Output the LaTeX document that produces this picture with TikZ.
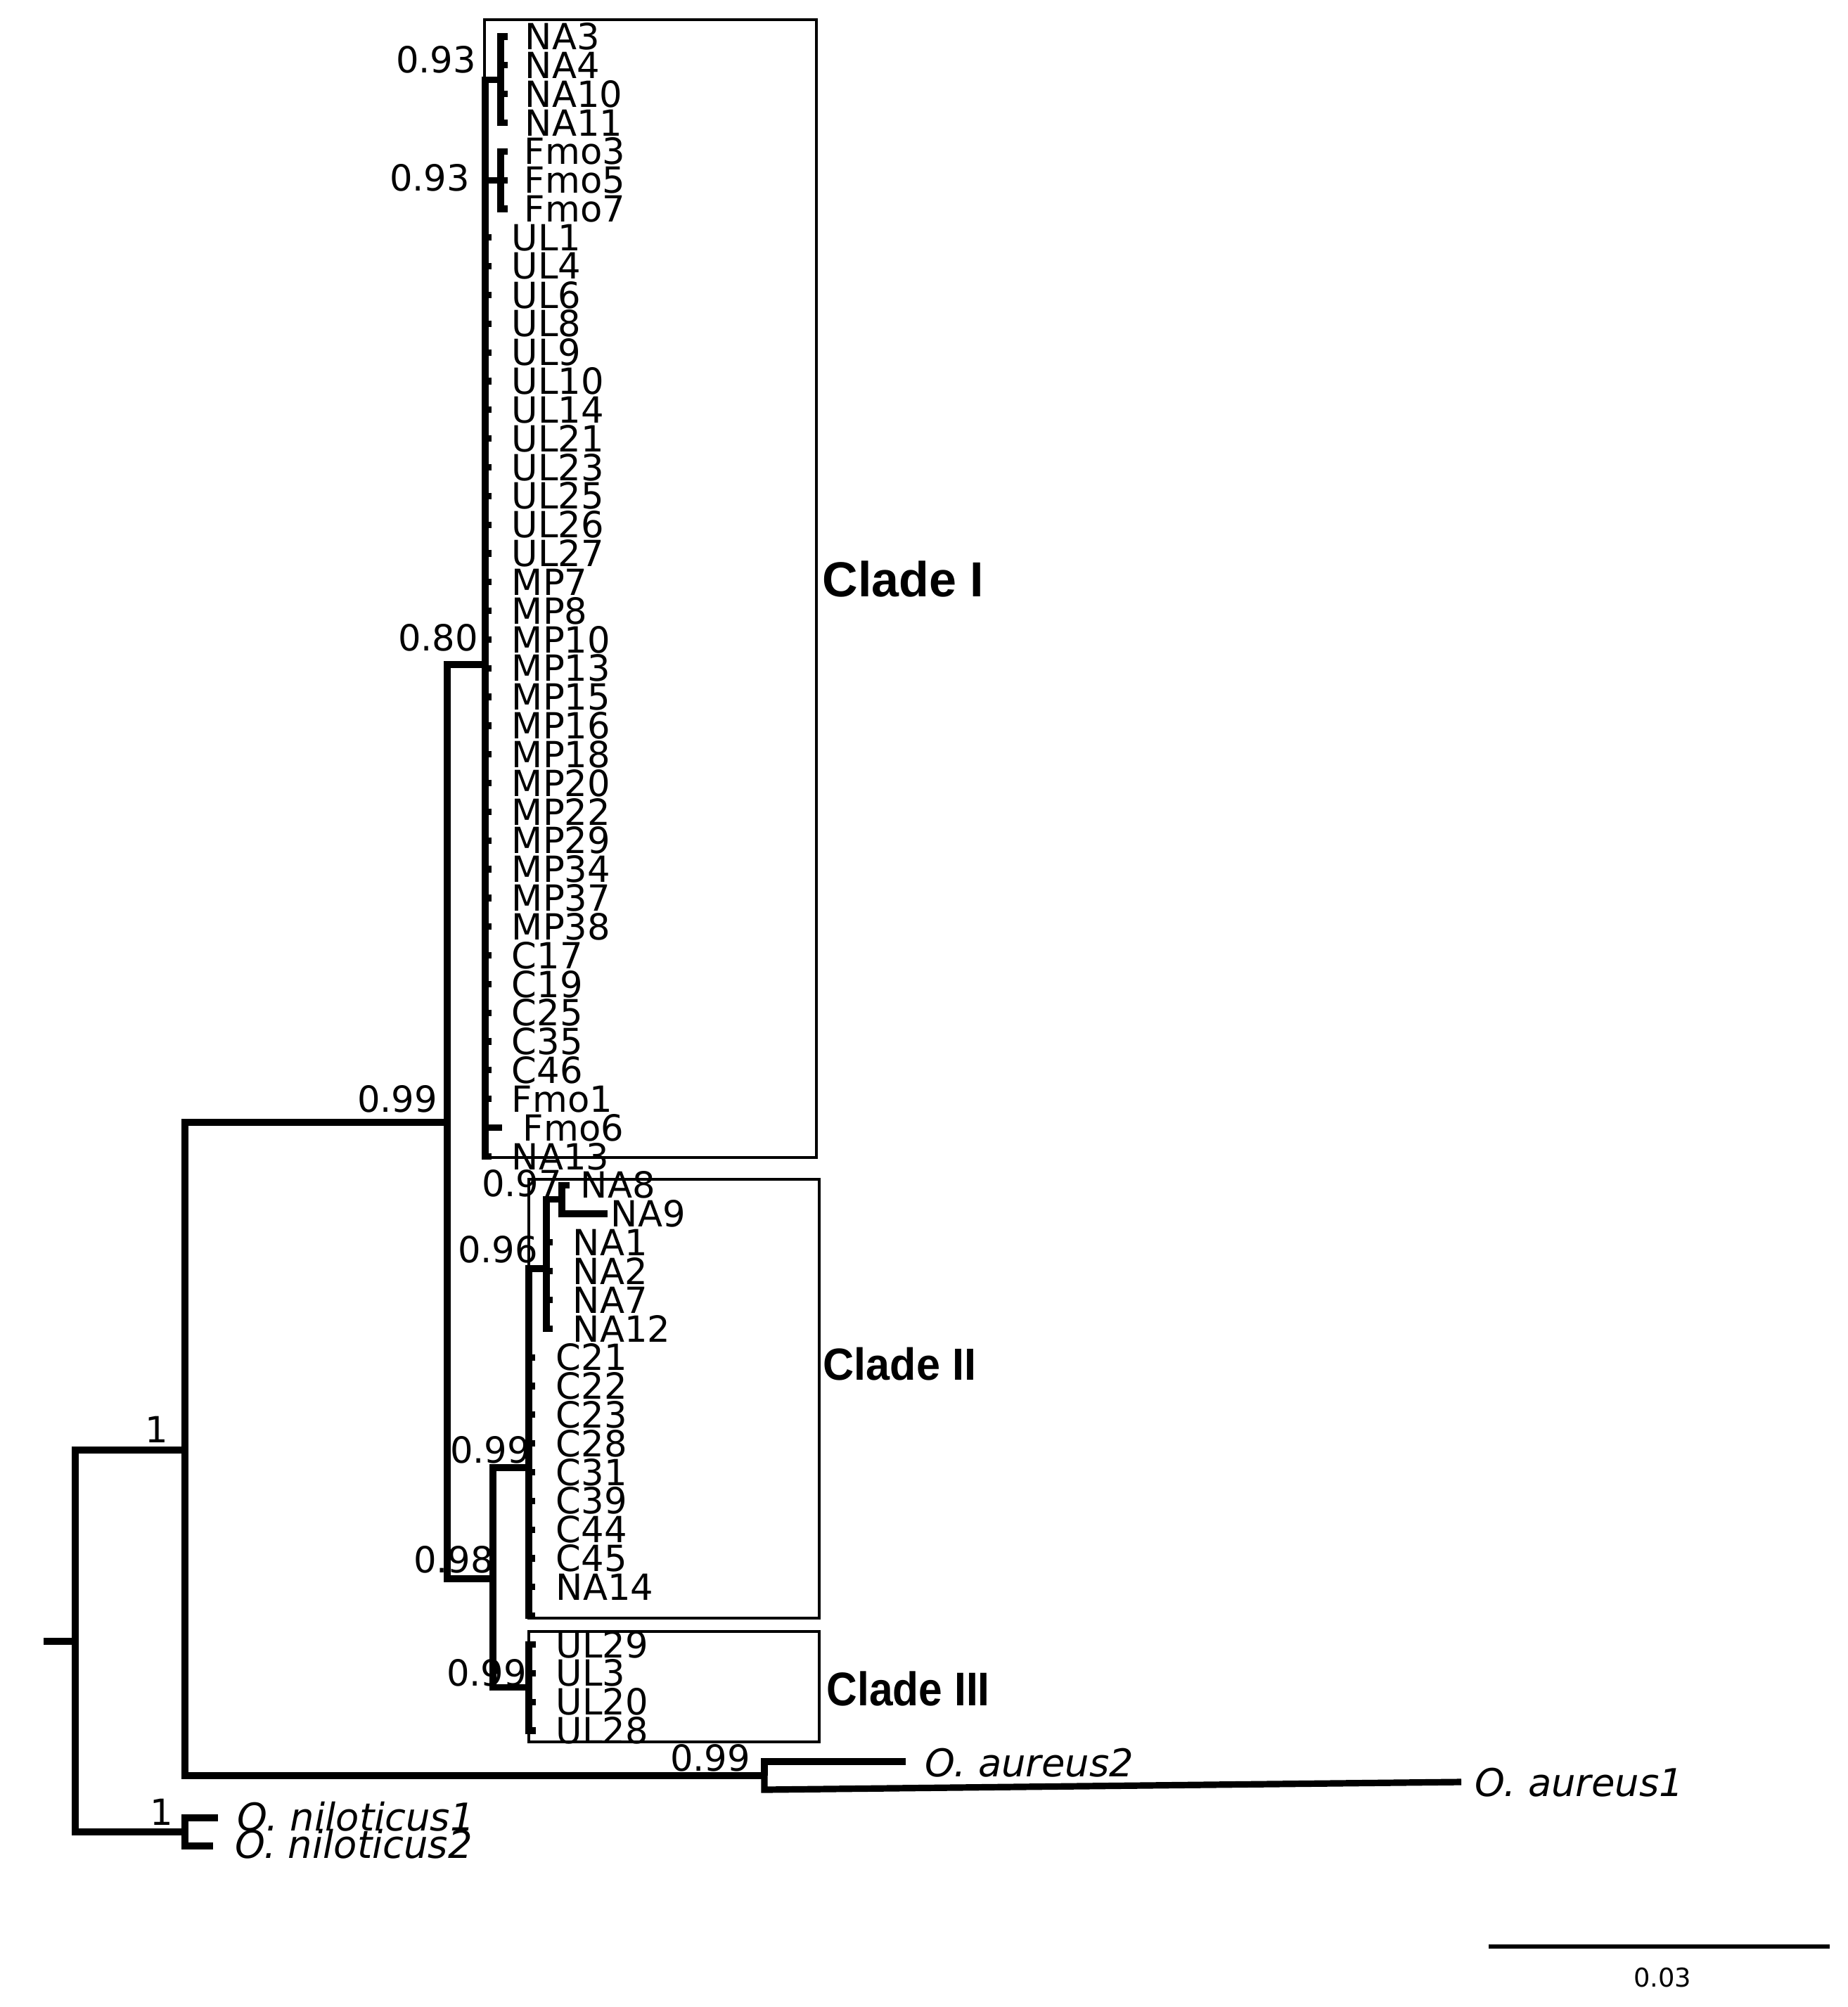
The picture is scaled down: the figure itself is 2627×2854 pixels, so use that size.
\documentclass[tikz,border=0pt]{standalone}
\usepackage{fontspec}
\setmainfont{DejaVu Sans}
\newfontfamily\cladefont{Liberation Sans}
\begin{document}
\begin{tikzpicture}[x=0.25pt,y=-0.25pt,
  branch/.style={line width=2.3pt, line join=miter},
  boxline/.style={line width=0.9pt},
  tiplab/.style={anchor=west, inner sep=0pt, font=\fontsize{12.8}{14}\selectfont},
  supp/.style={anchor=center, inner sep=0pt, font=\fontsize{12.8}{14}\selectfont},
  splab/.style={anchor=west, inner sep=0pt, font=\fontsize{13.6}{15}\selectfont\itshape},
  cladelab/.style={anchor=west, inner sep=0pt}
]
\useasboundingbox (0,0) rectangle (2627,2854);

% boxes
\draw[boxline] (689,28) rectangle (1161,1646);
\draw[boxline] (752,1677) rectangle (1165,2301);
\draw[boxline] (752,2320) rectangle (1165,2477);

% internal nodes
\coordinate (root0) at (62,2334);
\coordinate (root) at (107,2334);
\coordinate (nA) at (263,2062);
\coordinate (nNil) at (263,2605);
\coordinate (nB) at (636,1596);
\coordinate (nAur) at (1087,2525);
\coordinate (nI) at (690,945);
\coordinate (nNA) at (712,{52+40.83*1.5});
\coordinate (nFmo) at (712,{52+40.83*5});
\coordinate (nC) at (701,2245);
\coordinate (nII) at (752,2087);
\coordinate (nIII) at (752,{52+40.83*57.5});
\coordinate (nNAs) at (777,1804);
\coordinate (n89) at (799,{52+40.83*40.5});

% backbone
\draw[branch] (root0) -- (root);
\draw[branch] (root) |- (nA);
\draw[branch] (root) |- (nNil);
\draw[branch] (nA) |- (nB);
\draw[branch] (nA) |- (nAur);
\draw[branch] (nB) |- (nI);
\draw[branch] (nB) |- (nC);
\draw[branch] (nI) |- (nNA);
\draw[branch] (nI) |- (nFmo);
\draw[branch] (nC) |- (nII);
\draw[branch] (nC) |- (nIII);
\draw[branch] (nII) |- (nNAs);
\draw[branch] (nNAs) |- (n89);

% outgroups
\coordinate (tNil1) at (310,2585);
\coordinate (tNil2) at (303,2625);
\draw[branch] (nNil) |- (tNil1);
\draw[branch] (nNil) |- (tNil2);
\node[splab] (lNil1) at (337,2583) {O. niloticus1};
\node[splab] (lNil2) at (334,2622) {O. niloticus2};
\coordinate (tAur2) at (1288,2505);
\coordinate (tAur1) at (2078,2534);
\draw[branch] (nAur) |- (tAur2);
\draw[branch] (nAur) -- ++(0,20) -- (tAur1);
\node[splab] (lAur2) at (1315,2507) {O. aureus2};
\node[splab] (lAur1) at (2097,2535) {O. aureus1};

% clade I: NA subclade
\foreach \nm/\r in {NA3/0,NA4/1,NA10/2,NA11/3}{
  \coordinate (t\nm) at (722,{52+40.83*\r});
  \draw[branch] (nNA) |- (t\nm);
  \node[tiplab] (l\nm) at (746,{52+40.83*\r}) {\nm};
}
% clade I: Fmo subclade
\foreach \nm/\r in {Fmo3/4,Fmo5/5,Fmo7/6}{
  \coordinate (t\nm) at (722,{52+40.83*\r});
  \draw[branch] (nFmo) |- (t\nm);
  \node[tiplab] (l\nm) at (745,{52+40.83*\r}) {\nm};
}
% clade I polytomy
\foreach \nm/\r in {UL1/7,UL4/8,UL6/9,UL8/10,UL9/11,UL10/12,UL14/13,UL21/14,UL23/15,UL25/16,UL26/17,UL27/18,MP7/19,MP8/20,MP10/21,MP13/22,MP15/23,MP16/24,MP18/25,MP20/26,MP22/27,MP29/28,MP34/29,MP37/30,MP38/31,C17/32,C19/33,C25/34,C35/35,C46/36,Fmo1/37,NA13/39}{
  \coordinate (t\nm) at (699,{52+40.83*\r});
  \draw[branch] (nI) |- (t\nm);
  \node[tiplab] (l\nm) at (727,{52+40.83*\r}) {\nm};
}
\coordinate (tFmo6) at (714,{52+40.83*38});
\draw[branch] (nI) |- (tFmo6);
\node[tiplab] (lFmo6) at (743,{52+40.83*38}) {Fmo6};

% clade II
\coordinate (tNA8) at (810,{52+40.83*40});
\coordinate (tNA9) at (864,{52+40.83*41});
\draw[branch] (n89) |- (tNA8);
\draw[branch] (n89) |- (tNA9);
\node[tiplab] (lNA8) at (825,{52+40.83*40}) {NA8};
\node[tiplab] (lNA9) at (868,{52+40.83*41}) {NA9};
\foreach \nm/\r in {NA1/42,NA2/43,NA7/44,NA12/45}{
  \coordinate (t\nm) at (786,{52+40.83*\r});
  \draw[branch] (nNAs) |- (t\nm);
  \node[tiplab] (l\nm) at (814,{52+40.83*\r}) {\nm};
}
\foreach \nm/\r in {C21/46,C22/47,C23/48,C28/49,C31/50,C39/51,C44/52,C45/53,NA14/54}{
  \coordinate (t\nm) at (761,{52+40.83*\r});
  \draw[branch] (nII) |- (t\nm);
  \node[tiplab] (l\nm) at (790,{52+40.83*\r}) {\nm};
}
\coordinate (tX) at (761,{52+40.83*55});
\draw[branch] (nII) |- (tX);

% clade III
\foreach \nm/\r in {UL29/56,UL3/57,UL20/58,UL28/59}{
  \coordinate (t\nm) at (762,{52+40.83*\r});
  \draw[branch] (nIII) |- (t\nm);
  \node[tiplab] (l\nm) at (790,{52+40.83*\r}) {\nm};
}

% support values
\node[supp] (s1) at (620,85) {0.93};
\node[supp] (s2) at (611,253) {0.93};
\node[supp] (s3) at (623,907) {0.80};
\node[supp] (s4) at (565,1563) {0.99};
\node[supp] (s5) at (742,1683) {0.97};
\node[supp] (s6) at (708,1777) {0.96};
\node[supp] (s7) at (697,2062) {0.99};
\node[supp] (s8) at (645,2218) {0.98};
\node[supp] (s9) at (692,2379) {0.99};
\node[supp] (s10) at (1010,2500) {0.99};
\node[supp] (s11) at (223,2033) {1};
\node[supp] (s12) at (230,2577) {1};

% clade labels
\node[cladelab] (cI) at (1169,823) {\cladefont\bfseries\fontsize{17.5}{20}\selectfont Clade I};
\node[cladelab] (cII) at (1170,1940) {\scalebox{0.955}[1]{\cladefont\bfseries\fontsize{16}{19}\selectfont Clade II}};
\node[cladelab] (cIII) at (1175,2401) {\scalebox{0.9}[1]{\cladefont\bfseries\fontsize{16.8}{19}\selectfont Clade III}};

% scale bar
\coordinate (sb1) at (2117,2768);
\coordinate (sb2) at (2602,2768);
\draw[line width=1.7pt] (sb1) -- (sb2);
\node[supp, font=\fontsize{9.2}{11}\selectfont] (sblab) at (2364,2812) {0.03};
\end{tikzpicture}
\end{document}
